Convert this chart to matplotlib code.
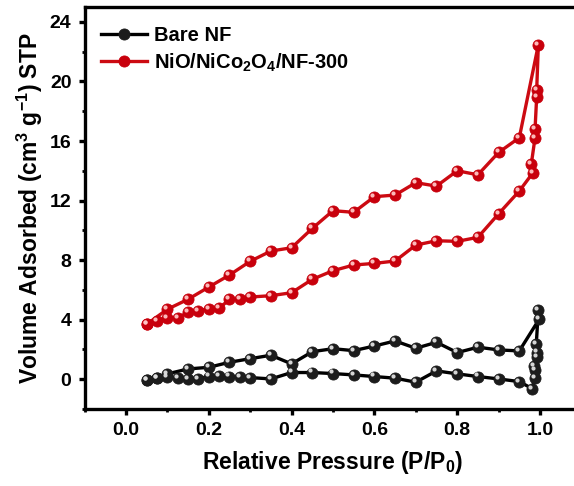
import matplotlib
matplotlib.use("Agg")
import matplotlib.pyplot as plt
from matplotlib.transforms import offset_copy
from matplotlib.ticker import MultipleLocator

plt.rcParams['font.family'] = ['Liberation Sans', 'DejaVu Sans']
plt.rcParams['font.weight'] = 'bold'
plt.rcParams['mathtext.fontset'] = 'custom'
plt.rcParams['mathtext.rm'] = 'Liberation Sans:bold'
plt.rcParams['mathtext.bf'] = 'Liberation Sans:bold'
plt.rcParams['mathtext.it'] = 'Liberation Sans:bold'

# ---- data ----
bare_ads_x = [0.05, 0.075, 0.1, 0.125, 0.15, 0.175, 0.2, 0.225, 0.25, 0.275, 0.3, 0.35,
              0.4, 0.45, 0.5, 0.55, 0.6, 0.65, 0.7, 0.75, 0.8, 0.85, 0.9, 0.95,
              0.981, 0.988, 0.988, 0.986, 0.992, 0.992, 0.991, 0.996]
bare_ads_y = [-0.05, 0.07, 0.13, 0.07, 0.02, 0.04, 0.18, 0.22, 0.18, 0.13, 0.11, 0.02,
              0.45, 0.45, 0.38, 0.29, 0.18, 0.07, -0.2, 0.56, 0.36, 0.18, 0.02, -0.16,
              -0.63, 0.07, 0.62, 0.89, 1.52, 1.79, 2.35, 4.65]
bare_des_x = [0.998, 0.95, 0.9, 0.85, 0.8, 0.75, 0.7, 0.65, 0.6, 0.55, 0.5, 0.45,
              0.4, 0.35, 0.3, 0.25, 0.2, 0.15, 0.1, 0.075, 0.05]
bare_des_y = [4.03, 1.90, 1.97, 2.15, 1.79, 2.48, 2.08, 2.57, 2.23, 1.92, 2.05, 1.85,
              1.03, 1.61, 1.38, 1.14, 0.80, 0.69, 0.36, 0.09, -0.05]

nio_ads_x = [0.05, 0.075, 0.1, 0.125, 0.15, 0.175, 0.2, 0.225, 0.25, 0.275, 0.3, 0.35,
             0.4, 0.45, 0.5, 0.55, 0.6, 0.65, 0.7, 0.75, 0.8, 0.85, 0.9, 0.95,
             0.983, 0.979, 0.988, 0.988, 0.992, 0.992, 0.996]
nio_ads_y = [3.69, 3.93, 4.13, 4.13, 4.49, 4.60, 4.74, 4.76, 5.37, 5.39, 5.52, 5.61,
             5.81, 6.71, 7.29, 7.67, 7.78, 7.94, 9.01, 9.30, 9.26, 9.53, 11.11, 12.64,
             13.87, 14.45, 16.22, 16.78, 18.97, 19.42, 22.46]
nio_des_x = [0.95, 0.9, 0.85, 0.8, 0.75, 0.7, 0.65, 0.6, 0.55, 0.5, 0.45, 0.4,
             0.35, 0.3, 0.25, 0.2, 0.15, 0.1, 0.05]
nio_des_y = [16.22, 15.23, 13.73, 14.0, 12.97, 13.2, 12.37, 12.26, 11.21, 11.32, 10.13, 8.83,
             8.61, 7.92, 7.0, 6.19, 5.37, 4.70, 3.69]

labels = ['Bare NF', r'NiO/NiCo$_{\mathbf{2}}$O$_{\mathbf{4}}$/NF-300']
x_ticks = [0.0, 0.2, 0.4, 0.6, 0.8, 1.0]
y_ticks = [0, 4, 8, 12, 16, 20, 24]

# ---- figure ----
W, H = 574, 486
fig = plt.figure(figsize=(W / 100, H / 100), dpi=100)
left_px, right_px, top_px, bot_px = 84.6, 581.4, 7, 409
ax = fig.add_axes([left_px / W, 1 - bot_px / H, (right_px - left_px) / W, (bot_px - top_px) / H])

series = [
    (bare_ads_x + bare_des_x, bare_ads_y + bare_des_y, '#000000', '#1c1c1c', '#e0e0e0'),
    (nio_ads_x + nio_des_x, nio_ads_y + nio_des_y, '#cc0a12', '#c8000c', '#ffc4c4'),
]
hl_trans = offset_copy(ax.transData, fig=fig, x=-1.5, y=1.5, units='points')
handles = []
for (xs, ys, lc, fc, hc), lab in zip(series, labels):
    h, = ax.plot(xs, ys, '-', color=lc, lw=2.4, marker='o', ms=8.0,
                 mfc=fc, mec=fc, mew=0.6, label=lab, zorder=3)
    ax.plot(xs, ys, ls='none', marker='o', ms=3.0, mfc=hc, mec='none',
            transform=hl_trans, zorder=4, alpha=0.95)
    handles.append(h)

ax.set_xlim(-0.1, 1.1)
ax.set_ylim(-2, 25)
ax.set_xticks(x_ticks)
ax.set_yticks(y_ticks)
ax.set_xticklabels([f'{v:.1f}' for v in x_ticks])
ax.set_yticklabels([str(v) for v in y_ticks])
ax.xaxis.set_minor_locator(MultipleLocator(0.1))
ax.yaxis.set_minor_locator(MultipleLocator(2))

for s in ax.spines.values():
    s.set_linewidth(2.4)
ax.tick_params(which='major', direction='out', length=4.5, width=2.4, labelsize=14, pad=5)
ax.tick_params(which='minor', direction='out', length=2.5, width=2.0)
for lbl in ax.get_xticklabels() + ax.get_yticklabels():
    lbl.set_fontweight('bold')

ax.set_xlabel(r'Relative Pressure (P/P$_{\mathbf{0}}$)', fontsize=16.5, fontweight='bold', labelpad=7)
ax.set_ylabel(r'Volume Adsorbed (cm$^{\mathbf{3}}$ g$^{\mathbf{-1}}$) STP', fontsize=16.5,
              fontweight='bold', labelpad=3)

leg = ax.legend(handles=handles, loc='upper left', frameon=False, fontsize=14.5,
                handlelength=2.3, handletextpad=0.35, labelspacing=0.3,
                bbox_to_anchor=(0.008, 0.982), borderaxespad=0.2)
for t in leg.get_texts():
    t.set_fontweight('bold')

fig.savefig('out.png', dpi=100)
